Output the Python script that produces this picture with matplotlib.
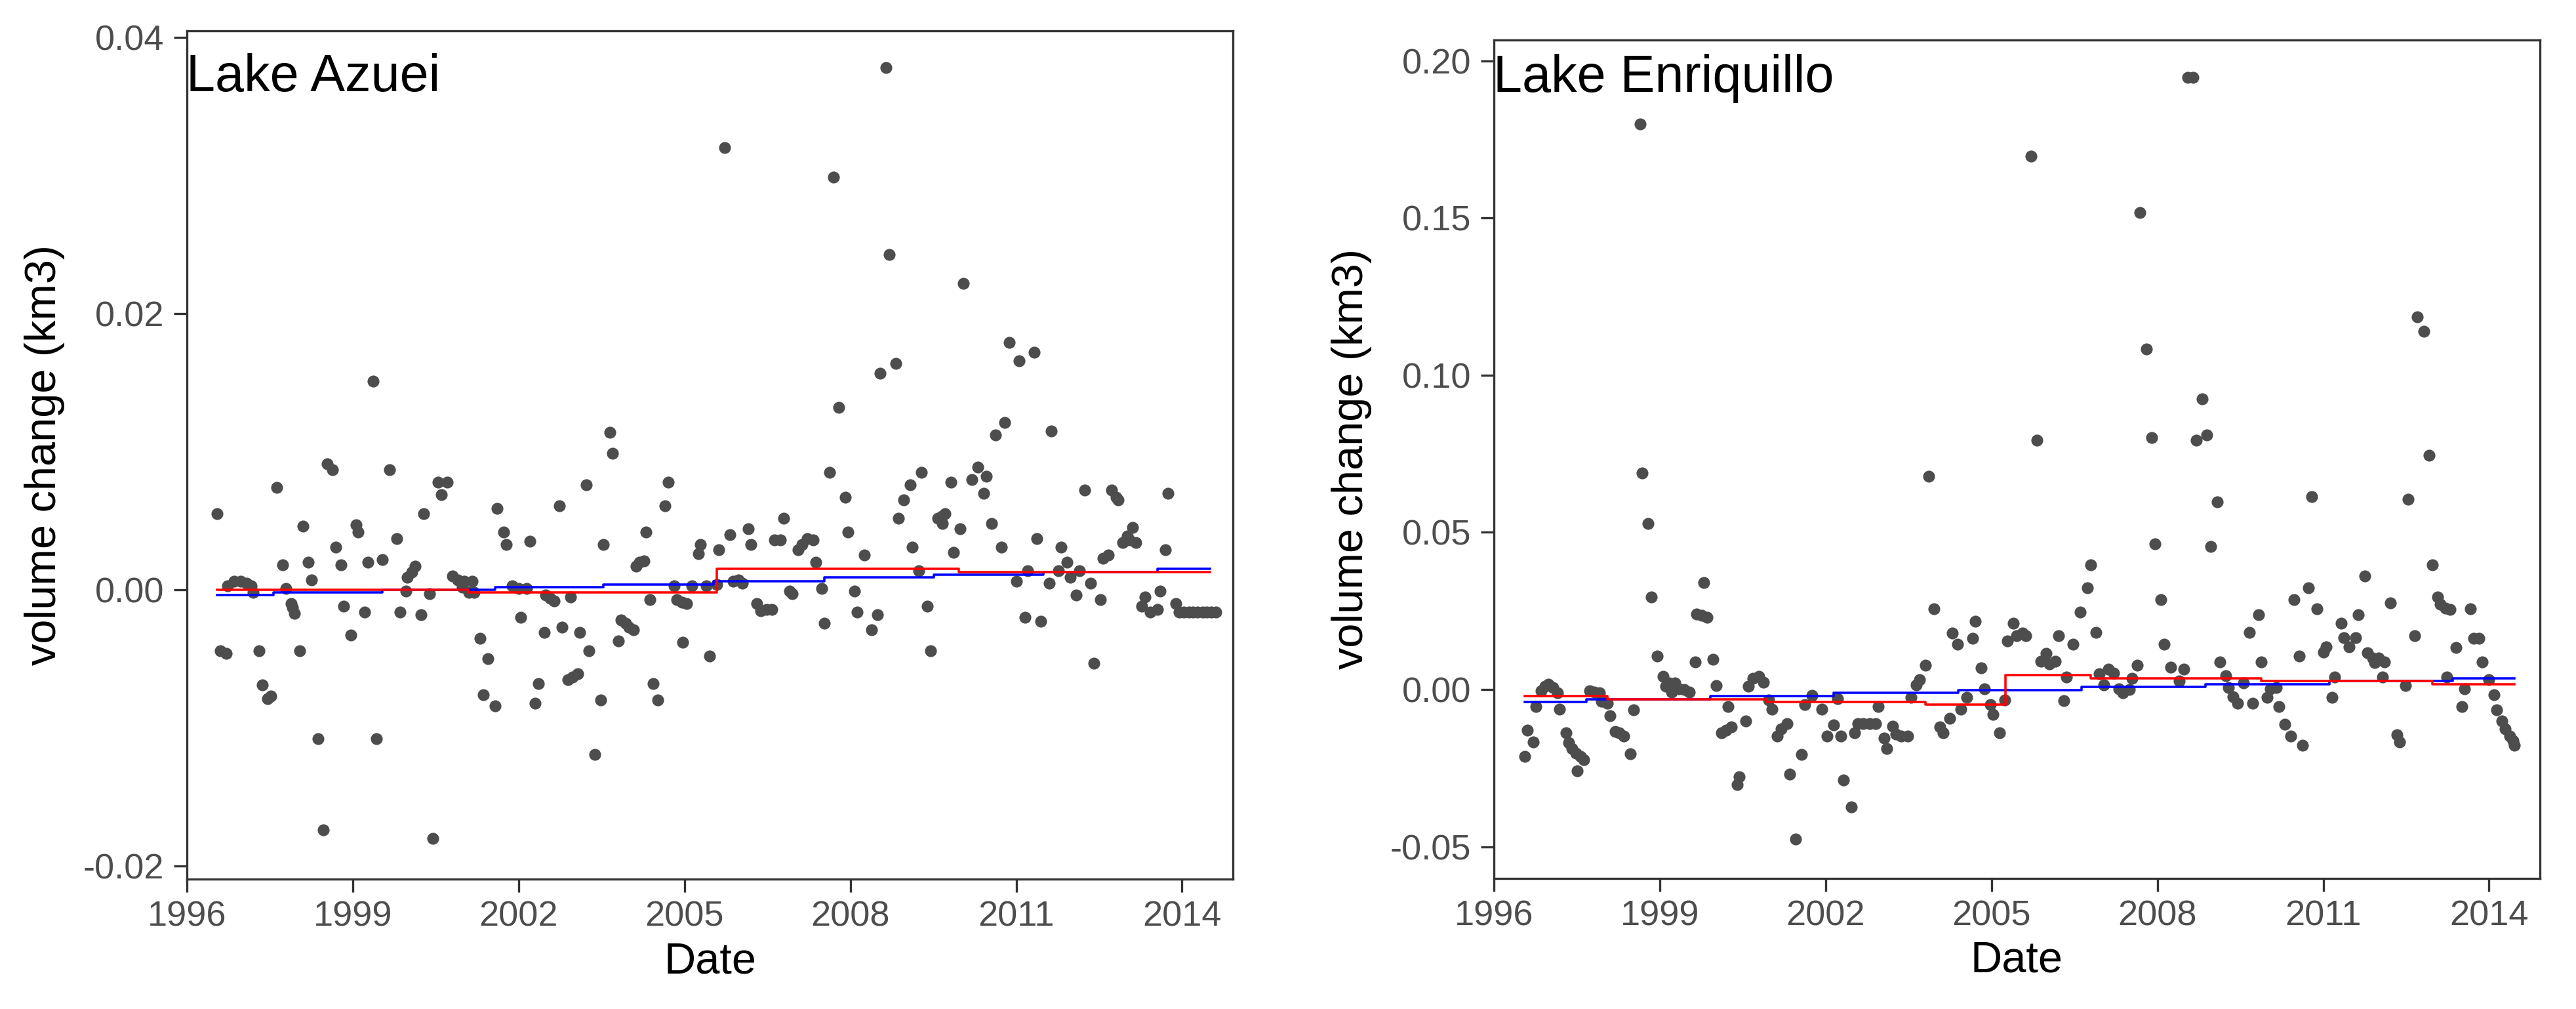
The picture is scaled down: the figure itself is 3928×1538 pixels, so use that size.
"""
Lake volume change, Azuei and Enriquillo
"""

import numpy as np
import matplotlib
matplotlib.use('Agg')
import matplotlib.pyplot as plt

plt.rcParams['font.family'] = ['Liberation Sans', 'DejaVu Sans']

# ---- Lake Azuei: monthly volume change (km3), decimal year ----
azuei_year = [
    1996.55, 1996.61, 1996.71, 1996.74, 1996.85, 1996.97, 1997.08, 1997.16, 1997.20, 1997.30,
    1997.36, 1997.46, 1997.52, 1997.62, 1997.73, 1997.79, 1997.89, 1997.91, 1997.95, 1998.04,
    1998.10, 1998.20, 1998.25, 1998.37, 1998.47, 1998.54, 1998.63, 1998.69, 1998.79, 1998.84,
    1998.96, 1999.06, 1999.10, 1999.22, 1999.27, 1999.37, 1999.43, 1999.54, 1999.67, 1999.80,
    1999.86, 1999.96, 1999.99, 2000.07, 2000.13, 2000.24, 2000.28, 2000.39, 2000.45, 2000.54,
    2000.60, 2000.71, 2000.81, 2000.90, 2000.98, 2001.02, 2001.10, 2001.16, 2001.19, 2001.30,
    2001.36, 2001.45, 2001.57, 2001.61, 2001.73, 2001.78, 2001.88, 2002.00, 2002.04, 2002.15,
    2002.20, 2002.30, 2002.36, 2002.47, 2002.49, 2002.57, 2002.64, 2002.74, 2002.79, 2002.89,
    2002.94, 2002.98, 2003.07, 2003.11, 2003.22, 2003.27, 2003.38, 2003.48, 2003.53, 2003.65,
    2003.70, 2003.80, 2003.85, 2003.93, 2004.00, 2004.08, 2004.12, 2004.19, 2004.27, 2004.30,
    2004.38, 2004.43, 2004.52, 2004.65, 2004.71, 2004.81, 2004.86, 2004.95, 2004.97, 2005.04,
    2005.13, 2005.25, 2005.29, 2005.40, 2005.45, 2005.58, 2005.62, 2005.73, 2005.82, 2005.88,
    2005.98, 2006.05, 2006.15, 2006.20, 2006.31, 2006.38, 2006.49, 2006.58, 2006.63, 2006.74,
    2006.79, 2006.90, 2006.95, 2007.06, 2007.13, 2007.22, 2007.33, 2007.37, 2007.48, 2007.53,
    2007.63, 2007.70, 2007.79, 2007.91, 2007.96, 2008.07, 2008.12, 2008.25, 2008.38, 2008.49,
    2008.54, 2008.65, 2008.71, 2008.82, 2008.87, 2008.97, 2009.08, 2009.12, 2009.24, 2009.29,
    2009.39, 2009.45, 2009.58, 2009.65, 2009.66, 2009.71, 2009.82, 2009.87, 2009.98, 2010.04,
    2010.20, 2010.30, 2010.41, 2010.46, 2010.56, 2010.62, 2010.73, 2010.79, 2010.88, 2011.00,
    2011.05, 2011.16, 2011.21, 2011.32, 2011.37, 2011.44, 2011.60, 2011.63, 2011.76, 2011.81,
    2011.92, 2011.98, 2012.08, 2012.14, 2012.24, 2012.35, 2012.41, 2012.52, 2012.57, 2012.67,
    2012.73, 2012.81, 2012.85, 2012.93, 2013.01, 2013.05, 2013.10, 2013.17, 2013.27, 2013.33,
    2013.43, 2013.55, 2013.60, 2013.70, 2013.75, 2013.89, 2013.95, 2014.03, 2014.12, 2014.20,
    2014.28, 2014.37, 2014.45, 2014.53, 2014.61,
]
azuei_vol = [
    0.0055, -0.0044, -0.0046, 0.0003, 0.0006, 0.0006, 0.0005, 0.0003, -0.0002, -0.0044,
    -0.0069, -0.0079, -0.0077, 0.0074, 0.0018, 0.0001, -0.0010, -0.0013, -0.0017, -0.0044,
    0.0046, 0.0020, 0.0007, -0.0108, -0.0174, 0.0091, 0.0087, 0.0031, 0.0018, -0.0012,
    -0.0033, 0.0047, 0.0042, -0.0016, 0.0020, 0.0151, -0.0108, 0.0022, 0.0087, 0.0037,
    -0.0016, -0.0001, 0.0009, 0.0013, 0.0017, -0.0018, 0.0055, -0.0003, -0.0180, 0.0078,
    0.0069, 0.0078, 0.0010, 0.0007, 0.0002, 0.0006, -0.0002, 0.0006, -0.0002, -0.0035,
    -0.0076, -0.0050, -0.0084, 0.0059, 0.0042, 0.0033, 0.0003, 0.0001, -0.0020, 0.0001,
    0.0035, -0.0082, -0.0068, -0.0031, -0.0004, -0.0006, -0.0008, 0.0061, -0.0027, -0.0065,
    -0.0005, -0.0063, -0.0061, -0.0031, 0.0076, -0.0044, -0.0119, -0.0080, 0.0033, 0.0114,
    0.0099, -0.0037, -0.0022, -0.0024, -0.0027, -0.0029, 0.0017, 0.0020, 0.0021, 0.0042,
    -0.0007, -0.0068, -0.0080, 0.0061, 0.0078, 0.0003, -0.0007, -0.0009, -0.0038, -0.0010,
    0.0003, 0.0026, 0.0033, 0.0003, -0.0048, 0.0004, 0.0029, 0.0320, 0.0040, 0.0006,
    0.0007, 0.0005, 0.0044, 0.0033, -0.0010, -0.0015, -0.0014, -0.0014, 0.0036, 0.0036,
    0.0052, -0.0001, -0.0003, 0.0029, 0.0033, 0.0037, 0.0036, 0.0020, 0.0001, -0.0024,
    0.0085, 0.0299, 0.0132, 0.0067, 0.0042, -0.0001, -0.0016, 0.0025, -0.0029, -0.0018,
    0.0157, 0.0378, 0.0243, 0.0164, 0.0052, 0.0065, 0.0076, 0.0031, 0.0014, 0.0085,
    -0.0012, -0.0044, 0.0052, 0.0053, 0.0048, 0.0055, 0.0078, 0.0027, 0.0044, 0.0222,
    0.0080, 0.0089, 0.0070, 0.0082, 0.0048, 0.0112, 0.0031, 0.0121, 0.0179, 0.0006,
    0.0166, -0.0020, 0.0014, 0.0172, 0.0037, -0.0023, 0.0005, 0.0115, 0.0014, 0.0031,
    0.0020, 0.0009, -0.0004, 0.0014, 0.0072, 0.0005, -0.0053, -0.0007, 0.0023, 0.0025,
    0.0072, 0.0067, 0.0065, 0.0034, 0.0039, 0.0036, 0.0045, 0.0034, -0.0012, -0.0005,
    -0.0016, -0.0014, -0.0001, 0.0029, 0.0070, -0.0010, -0.0016, -0.0016, -0.0016, -0.0016,
    -0.0016, -0.0016, -0.0016, -0.0016, -0.0016,
]

# step lines (segment starts + final end, one value per segment)
azuei_red_x = [1996.55, 2001.09, 2005.58, 2009.96, 2014.51]
azuei_red_y = [0.0000, -0.0002, 0.0015, 0.0013]
azuei_blue_x = [1996.55, 1997.57, 1999.54, 2001.57, 2003.53, 2005.52, 2007.53,
                2009.51, 2011.49, 2013.55, 2014.51]
azuei_blue_y = [-0.0004, -0.0002, 0.0000, 0.0002, 0.0004, 0.0006, 0.0009,
                0.0011, 0.0013, 0.0015]

# ---- Lake Enriquillo ----
enriq_year = [
    1996.56, 1996.61, 1996.71, 1996.76, 1996.85, 1996.93, 1996.99, 1997.07, 1997.15, 1997.19,
    1997.30, 1997.35, 1997.41, 1997.48, 1997.51, 1997.56, 1997.62, 1997.73, 1997.82, 1997.91,
    1997.95, 1998.05, 1998.10, 1998.19, 1998.27, 1998.35, 1998.47, 1998.53, 1998.64, 1998.68,
    1998.79, 1998.85, 1998.95, 1999.06, 1999.11, 1999.17, 1999.21, 1999.27, 1999.34, 1999.44,
    1999.54, 1999.64, 1999.66, 1999.76, 1999.80, 1999.85, 1999.96, 2000.02, 2000.12, 2000.20,
    2000.24, 2000.29, 2000.40, 2000.44, 2000.55, 2000.60, 2000.68, 2000.79, 2000.87, 2000.97,
    2001.03, 2001.13, 2001.19, 2001.30, 2001.35, 2001.46, 2001.56, 2001.62, 2001.75, 2001.93,
    2002.03, 2002.15, 2002.22, 2002.28, 2002.32, 2002.47, 2002.52, 2002.58, 2002.68, 2002.80,
    2002.90, 2002.95, 2003.06, 2003.11, 2003.21, 2003.27, 2003.37, 2003.48, 2003.54, 2003.64,
    2003.70, 2003.81, 2003.86, 2003.96, 2004.07, 2004.13, 2004.24, 2004.29, 2004.39, 2004.45,
    2004.55, 2004.66, 2004.71, 2004.81, 2004.87, 2004.98, 2005.03, 2005.14, 2005.24, 2005.29,
    2005.40, 2005.46, 2005.56, 2005.62, 2005.71, 2005.82, 2005.89, 2005.99, 2006.05, 2006.15,
    2006.21, 2006.31, 2006.36, 2006.47, 2006.60, 2006.74, 2006.79, 2006.89, 2006.95, 2007.03,
    2007.11, 2007.21, 2007.31, 2007.38, 2007.50, 2007.54, 2007.64, 2007.69, 2007.80, 2007.90,
    2007.96, 2008.06, 2008.12, 2008.24, 2008.40, 2008.48, 2008.55, 2008.65, 2008.71, 2008.81,
    2008.90, 2008.97, 2009.08, 2009.13, 2009.24, 2009.29, 2009.37, 2009.45, 2009.56, 2009.67,
    2009.72, 2009.83, 2009.88, 2009.98, 2010.04, 2010.15, 2010.20, 2010.31, 2010.41, 2010.47,
    2010.57, 2010.63, 2010.73, 2010.79, 2010.89, 2011.00, 2011.05, 2011.16, 2011.21, 2011.32,
    2011.37, 2011.47, 2011.59, 2011.64, 2011.75, 2011.80, 2011.90, 2011.93, 2012.00, 2012.07,
    2012.11, 2012.22, 2012.33, 2012.38, 2012.49, 2012.54, 2012.65, 2012.70, 2012.82, 2012.92,
    2012.97, 2013.07, 2013.12, 2013.21, 2013.24, 2013.29, 2013.40, 2013.51, 2013.56, 2013.66,
    2013.72, 2013.82, 2013.88, 2013.99, 2014.09, 2014.14, 2014.23, 2014.29, 2014.37, 2014.43,
    2014.46,
]
enriq_vol = [
    -0.0213, -0.0129, -0.0166, -0.0055, -0.0004, 0.0010, 0.0017, 0.0006, -0.0011, -0.0062,
    -0.0137, -0.0170, -0.0188, -0.0202, -0.0259, -0.0213, -0.0223, -0.0004, -0.0008, -0.0011,
    -0.0037, -0.0044, -0.0083, -0.0134, -0.0137, -0.0148, -0.0204, -0.0064, 0.1798, 0.0689,
    0.0529, 0.0294, 0.0106, 0.0041, 0.0010, 0.0021, -0.0008, 0.0021, 0.0003, -0.0001,
    -0.0008, 0.0087, 0.0240, 0.0236, 0.0341, 0.0229, 0.0096, 0.0012, -0.0137, -0.0130,
    -0.0055, -0.0119, -0.0303, -0.0277, -0.0101, 0.0010, 0.0035, 0.0042, 0.0024, -0.0033,
    -0.0062, -0.0148, -0.0126, -0.0109, -0.0270, -0.0475, -0.0206, -0.0047, -0.0019, -0.0062,
    -0.0148, -0.0112, -0.0030, -0.0148, -0.0288, -0.0373, -0.0137, -0.0109, -0.0109, -0.0109,
    -0.0109, -0.0055, -0.0155, -0.0188, -0.0116, -0.0141, -0.0148, -0.0148, -0.0026, 0.0014,
    0.0032, 0.0077, 0.0679, 0.0256, -0.0119, -0.0137, -0.0091, 0.0180, 0.0144, -0.0062,
    -0.0026, 0.0162, 0.0218, 0.0069, 0.0003, -0.0047, -0.0080, -0.0137, -0.0033, 0.0154,
    0.0211, 0.0172, 0.0180, 0.0172, 0.1696, 0.0793, 0.0089, 0.0114, 0.0082, 0.0089,
    0.0172, -0.0035, 0.0040, 0.0143, 0.0247, 0.0323, 0.0397, 0.0181, 0.0050, 0.0014,
    0.0064, 0.0053, 0.0003, -0.0011, -0.0001, 0.0035, 0.0078, 0.1517, 0.1084, 0.0801,
    0.0463, 0.0285, 0.0143, 0.0071, 0.0028, 0.0064, 0.1948, 0.1948, 0.0793, 0.0924,
    0.0809, 0.0454, 0.0596, 0.0087, 0.0044, 0.0006, -0.0022, -0.0044, 0.0021, 0.0181,
    -0.0044, 0.0238, 0.0087, -0.0026, 0.0003, 0.0006, -0.0055, -0.0111, -0.0148, 0.0285,
    0.0106, -0.0177, 0.0323, 0.0613, 0.0257, 0.0118, 0.0136, -0.0026, 0.0040, 0.0210,
    0.0165, 0.0136, 0.0165, 0.0238, 0.0360, 0.0116, 0.0100, 0.0086, 0.0100, 0.0040,
    0.0087, 0.0275, -0.0144, -0.0166, 0.0012, 0.0605, 0.0172, 0.1186, 0.1139, 0.0746,
    0.0397, 0.0295, 0.0272, 0.0258, 0.0040, 0.0254, 0.0134, -0.0055, 0.0003, 0.0257,
    0.0162, 0.0162, 0.0087, 0.0032, -0.0017, -0.0064, -0.0101, -0.0126, -0.0148, -0.0162,
    -0.0177,
]

enriq_red_x = [1996.56, 1998.05, 2000.93, 2003.80, 2005.25, 2006.80, 2009.88,
               2012.97, 2014.46]
enriq_red_y = [-0.0021, -0.0031, -0.0040, -0.0049, 0.0046, 0.0035, 0.0027, 0.0017]
enriq_blue_x = [1996.56, 1997.67, 1999.92, 2002.15, 2004.40, 2006.63, 2008.87,
                2011.11, 2013.34, 2014.46]
enriq_blue_y = [-0.0040, -0.0031, -0.0021, -0.0011, -0.0002, 0.0008, 0.0017,
                0.0027, 0.0035]

year_ticks = [1996, 1999, 2002, 2005, 2008, 2011, 2014]

azuei_yticks = [-0.02, 0.0, 0.02, 0.04]
azuei_ylabels = ['-0.02', '0.00', '0.02', '0.04']
enriq_yticks = [-0.05, 0.0, 0.05, 0.10, 0.15, 0.20]
enriq_ylabels = ['-0.05', '0.00', '0.05', '0.10', '0.15', '0.20']

W, H = 3929, 1538
fig = plt.figure(figsize=(W / 300, H / 300), dpi=300)

# axes boxes measured in pixels: left, right, top, bottom
ax1 = fig.add_axes([285 / W, 1 - 1340 / H, (1880 - 285) / W, (1340 - 47) / H])
ax2 = fig.add_axes([2278 / W, 1 - 1339 / H, (3873 - 2278) / W, (1339 - 61) / H])


def step(ax, xs, ys, color):
    ax.step(xs, list(ys) + [ys[-1]], where='post', color=color, lw=0.85, zorder=3)


def style_panel(ax, ylim, yticks, ylabels):
    ax.set_xlim(1996.0, 2014.92)
    ax.set_ylim(*ylim)
    ax.set_xticks(year_ticks)
    ax.set_xticklabels([str(y) for y in year_ticks])
    ax.set_yticks(yticks)
    ax.set_yticklabels(ylabels)
    for sp in ax.spines.values():
        sp.set_color('#333333')
        sp.set_linewidth(0.8)
    ax.tick_params(axis='both', direction='out', length=4.8, width=0.8,
                   color='#333333', labelcolor='#4d4d4d', labelsize=13)
    ax.tick_params(axis='x', pad=3.0)
    ax.tick_params(axis='y', pad=3.5)
    ax.set_xlabel('Date', fontsize=16, color='black', labelpad=3)
    ax.set_ylabel('volume change (km3)', fontsize=16, color='black', labelpad=6.7)


for ax, yr, vol in [(ax1, azuei_year, azuei_vol), (ax2, enriq_year, enriq_vol)]:
    ax.scatter(yr, vol, s=19, color='#4d4d4d', linewidths=0, zorder=2)

step(ax1, azuei_blue_x, azuei_blue_y, 'blue')
step(ax1, azuei_red_x, azuei_red_y, 'red')
step(ax2, enriq_blue_x, enriq_blue_y, 'blue')
step(ax2, enriq_red_x, enriq_red_y, 'red')

style_panel(ax1, (-0.02095, 0.04048), azuei_yticks, azuei_ylabels)
style_panel(ax2, (-0.0601, 0.2066), enriq_yticks, enriq_ylabels)

fig.text(284 / W, 1 - 139.5 / H, 'Lake Azuei', fontsize=19, va='baseline', ha='left')
fig.text(2277 / W, 1 - 140 / H, 'Lake Enriquillo', fontsize=19, va='baseline', ha='left')

fig.savefig('out.png', dpi=300, facecolor='white')
